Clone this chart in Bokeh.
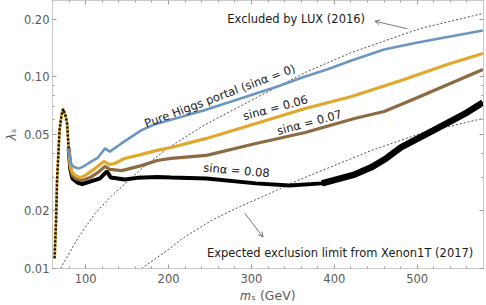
from bokeh.plotting import figure
from bokeh.models import (Range1d, FixedTicker, LogAxis, LinearAxis, Label, Arrow,
                          OpenHead, CustomJSTickFormatter)
from bokeh.embed import file_html
from bokeh.resources import INLINE

# ---------------- data ----------------
# shared resonance part (all four curves coincide here)
ms_shared = [62.5, 64.3, 65.5, 66.7, 68.5, 70.8, 72.8, 75.6, 77.6, 79.5]
lam_shared = [0.0113, 0.0178, 0.0288, 0.0366, 0.0525, 0.0628, 0.0680, 0.0628, 0.0571, 0.0423]

ms_blue = [79.5, 81.5, 83.9, 87.5, 91.4, 97, 103, 114.9, 123.2, 129.2, 143.1, 166.9, 182.7,
           212.5, 242.3, 272, 301.8, 331.5, 361.3, 391, 420.8, 460, 500.6, 539.9, 579.2]
lam_blue = [0.0423, 0.0360, 0.0344, 0.0336, 0.0332, 0.0340, 0.0353, 0.0379, 0.0423, 0.0407,
            0.0449, 0.0525, 0.0564, 0.0613, 0.0667, 0.0734, 0.0809, 0.0890, 0.0992, 0.1092,
            0.1216, 0.1388, 0.1510, 0.1623, 0.1744]

ms_yellow = [79.5, 81.5, 83.9, 87.5, 93.5, 99.4, 111.3, 122, 128, 135.1, 147, 162.5, 186.3,
             203, 245.8, 305.4, 364.9, 420.8, 480.4, 539.9, 579.2]
lam_yellow = [0.0423, 0.0345, 0.0317, 0.0306, 0.0298, 0.0306, 0.0332, 0.0362, 0.0349, 0.0353,
              0.0375, 0.0389, 0.0413, 0.0428, 0.0477, 0.0571, 0.0683, 0.0789, 0.0957, 0.1173,
              0.1323]

ms_brown = [79.5, 81.5, 83.9, 87.5, 95.8, 105.4, 114.9, 123.2, 129.2, 143.5, 167.3, 186.3,
            203, 245.8, 305.4, 364.9, 424.4, 460, 480.4, 500.6, 539.9, 579.2]
lam_brown = [0.0423, 0.0335, 0.0306, 0.0295, 0.0288, 0.0298, 0.0317, 0.0341, 0.0329, 0.0324,
             0.0344, 0.0366, 0.0375, 0.0389, 0.0449, 0.0512, 0.0606, 0.0659, 0.0717, 0.0780,
             0.0923, 0.1092]

ms_black = [79.5, 81.5, 83.9, 89.9, 95.8, 105.4, 117.3, 125.6, 130.4, 147, 162.5, 186.3, 203,
            245.8, 305.4, 345.8, 385, 424.4, 444.6, 462.5, 480.4, 519.6, 560, 579.2]
lam_black = [0.0423, 0.0330, 0.0295, 0.0281, 0.0276, 0.0284, 0.0295, 0.0321, 0.0298, 0.0291,
             0.0297, 0.0300, 0.0298, 0.0295, 0.0278, 0.0271, 0.0278, 0.0309, 0.0337, 0.0375,
             0.0428, 0.0525, 0.0651, 0.0734]

ms_lux = [69.6, 91.1, 111.3, 131.5, 149.4, 170.8, 200.6, 242.3, 301.8, 364.9, 420.8, 504, 579.2]
lam_lux = [0.0100, 0.01451, 0.01936, 0.0240, 0.0281, 0.0341, 0.0428, 0.0557, 0.0761, 0.1053,
           0.1339, 0.1787, 0.2139]

ms_x1t = [167.3, 198.2, 218.5, 251.8, 281.5, 322, 353, 385.1, 444.6, 507.7, 579.2]
lam_x1t = [0.0100, 0.01241, 0.01451, 0.0178, 0.0206, 0.02461, 0.02843, 0.03245, 0.04126,
           0.05121, 0.0606]

x_ticks = [100, 200, 300, 400, 500]
x_minor = [60, 80, 120, 140, 160, 180, 220, 240, 260, 280, 320, 340, 360, 380, 420, 440,
           460, 480, 520, 540, 560, 580]
y_ticks = [0.01, 0.02, 0.05, 0.1, 0.2]
y_minor = [0.03, 0.04, 0.06, 0.07, 0.08, 0.09]

x_title = "\U0001D45A\u209B (GeV)"   # italic m, subscript s
y_title = "λ\u209B"

# ---------------- styles ----------------
FONT = "DejaVu Sans"
C_BLUE = "#6b96c2"
C_YELLOW = "#e0a82c"
C_BROWN = "#8c6a42"
C_BLACK = "#000000"
AXIS_C = "#c8c8c8"
TICK_C = "#9a9a9a"
LABEL_C = "#5a5a5a"

p = figure(width=486, height=305, x_range=Range1d(60, 580), y_range=Range1d(0.01, 0.25),
           y_axis_type="log", output_backend="svg", toolbar_location=None,
           min_border_left=47, min_border_right=3, min_border_top=0, min_border_bottom=37)
p.xgrid.visible = False
p.ygrid.visible = False
p.outline_line_color = AXIS_C
p.background_fill_color = "white"
p.border_fill_color = "white"


def style_axis(ax, labels=True):
    ax.axis_line_color = AXIS_C
    ax.major_tick_line_color = TICK_C
    ax.minor_tick_line_color = TICK_C
    ax.major_tick_in = 4
    ax.major_tick_out = 0
    ax.minor_tick_in = 2
    ax.minor_tick_out = 0
    if labels:
        ax.major_label_text_font = FONT
        ax.major_label_text_font_size = "11.5px"
        ax.major_label_text_color = LABEL_C
        ax.axis_label_text_font = FONT
        ax.axis_label_text_font_size = "12.5px"
        ax.axis_label_text_color = LABEL_C
        ax.axis_label_standoff = 2
    else:
        ax.formatter = CustomJSTickFormatter(code="return '';")
        ax.major_label_text_font_size = "1px"
        ax.major_label_standoff = 0


p.xaxis.ticker = FixedTicker(ticks=x_ticks, minor_ticks=x_minor)
p.yaxis.ticker = FixedTicker(ticks=y_ticks, minor_ticks=y_minor)
p.yaxis.formatter = CustomJSTickFormatter(code="return tick.toFixed(2);")
style_axis(p.xaxis[0])
style_axis(p.yaxis[0])
p.xaxis.major_label_standoff = 5
p.yaxis.major_label_standoff = 3
p.xaxis.axis_label = x_title
p.xaxis.axis_label_text_font_style = "normal"
p.yaxis.axis_label = y_title
p.yaxis.axis_label_text_font_style = "italic"

top = LinearAxis(ticker=FixedTicker(ticks=x_ticks, minor_ticks=x_minor))
style_axis(top, labels=False)
p.add_layout(top, "above")
right = LogAxis(ticker=FixedTicker(ticks=y_ticks, minor_ticks=y_minor))
style_axis(right, labels=False)
p.add_layout(right, "right")

# exclusion limits
p.line(ms_lux, lam_lux, line_color="black", line_width=0.7, line_dash="2 2")
p.line(ms_x1t, lam_x1t, line_color="black", line_width=0.7, line_dash="2 2")

# relic-density curves
black_tail = [i for i, m in enumerate(ms_black) if m >= 385]
p.line(ms_black, lam_black, line_color=C_BLACK, line_width=4)
p.line([ms_black[i] for i in black_tail], [lam_black[i] for i in black_tail],
       line_color=C_BLACK, line_width=6.5)
p.line(ms_brown, lam_brown, line_color=C_BROWN, line_width=3.2)
p.line(ms_yellow, lam_yellow, line_color=C_YELLOW, line_width=3.2)
p.line(ms_blue, lam_blue, line_color=C_BLUE, line_width=2.6)
# shared resonance peak: yellow/black dotted look
p.line(ms_shared, lam_shared, line_color=C_YELLOW, line_width=2.8)
p.line(ms_shared, lam_shared, line_color="black", line_width=2.4, line_dash="2 2")


def txt(s, x, y, ang=0.0, size="11.5px", color="#1a1a1a"):
    p.add_layout(Label(x=x, y=y, text=s, angle=ang, angle_units="deg", text_font=FONT,
                       text_font_size=size, text_color=color,
                       text_align="center", text_baseline="middle"))


# curve labels
txt("Pure Higgs portal (sinα = 0)", 262, 0.0795, 20.5)
txt("sinα = 0.06", 329, 0.0690, 15)
txt("sinα = 0.07", 370, 0.0578, 15)
txt("sinα = 0.08", 282, 0.0325, -5)
txt("Excluded by LUX (2016)", 354, 0.200)
txt("Expected exclusion limit from Xenon1T (2017)", 407, 0.0120)

p.add_layout(Arrow(end=OpenHead(size=5, line_color="#555555", line_width=0.8),
                   x_start=488, y_start=0.178, x_end=449, y_end=0.195,
                   line_color="#555555", line_width=0.8))
p.add_layout(Arrow(end=OpenHead(size=5, line_color="#555555", line_width=0.8),
                   x_start=292, y_start=0.0194, x_end=314, y_end=0.0146,
                   line_color="#555555", line_width=0.8))

open("out.html", "w").write(file_html(p, INLINE))
